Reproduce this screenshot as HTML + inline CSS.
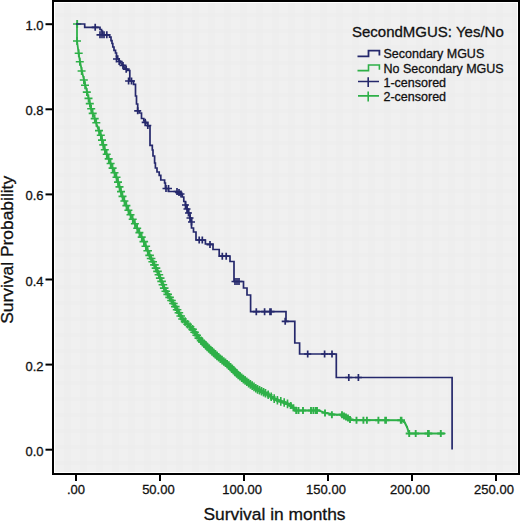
<!DOCTYPE html>
<html><head><meta charset="utf-8"><style>
html,body{margin:0;padding:0;background:#fff;}
svg{display:block;}
text{font-family:"Liberation Sans",sans-serif;fill:#111;stroke:#111;stroke-width:0.3px;}
</style></head><body>
<svg width="520" height="521" viewBox="0 0 520 521">
<defs>
<pattern id="chk" x="0" y="0" width="16" height="16" patternUnits="userSpaceOnUse">
<rect width="16" height="16" fill="#f0f0f0"/>
<rect x="0" y="0" width="7" height="16" fill="#e9e9e9" opacity="0.35"/>
<rect x="0" y="13" width="16" height="7" fill="#e9e9e9" opacity="0.35"/>
<rect x="0" y="-3" width="16" height="4" fill="#e9e9e9" opacity="0.35"/>
</pattern>
</defs>
<rect x="0" y="0" width="520" height="521" fill="#fff"/>
<rect x="55" y="3" width="462" height="469" fill="url(#chk)"/>
<rect x="53" y="1" width="466" height="473" fill="none" stroke="#000" stroke-width="2"/>
<g stroke="#000" stroke-width="2"><line x1="45.5" x2="53" y1="24.2" y2="24.2"/><line x1="45.5" x2="53" y1="109.3" y2="109.3"/><line x1="45.5" x2="53" y1="194.4" y2="194.4"/><line x1="45.5" x2="53" y1="279.5" y2="279.5"/><line x1="45.5" x2="53" y1="364.6" y2="364.6"/><line x1="45.5" x2="53" y1="449.7" y2="449.7"/><line x1="76.0" x2="76.0" y1="474" y2="481"/><line x1="160.0" x2="160.0" y1="474" y2="481"/><line x1="244.0" x2="244.0" y1="474" y2="481"/><line x1="328.0" x2="328.0" y1="474" y2="481"/><line x1="412.0" x2="412.0" y1="474" y2="481"/><line x1="496.0" x2="496.0" y1="474" y2="481"/></g>
<g font-size="13"><text x="43.5" y="30.2" text-anchor="end">1.0</text><text x="43.5" y="115.3" text-anchor="end">0.8</text><text x="43.5" y="200.4" text-anchor="end">0.6</text><text x="43.5" y="285.5" text-anchor="end">0.4</text><text x="43.5" y="370.6" text-anchor="end">0.2</text><text x="43.5" y="455.7" text-anchor="end">0.0</text><text x="76.0" y="494" text-anchor="middle">.00</text><text x="158.4" y="494" text-anchor="middle">50.00</text><text x="242.2" y="494" text-anchor="middle">100.00</text><text x="326.0" y="494" text-anchor="middle">150.00</text><text x="410.0" y="494" text-anchor="middle">200.00</text><text x="494.0" y="494" text-anchor="middle">250.00</text></g>
<text x="274.5" y="520.2" font-size="17.4" text-anchor="middle">Survival in months</text>
<text transform="translate(12.9,249.8) rotate(-90)" font-size="17.4" text-anchor="middle">Survival Probability</text>
<path d="M77,23.5 L77,40.8" stroke="#2eb048" stroke-width="1.80" stroke-linecap="round" fill="none"/><path d="M77,40.8 L78.8,54.6" stroke="#2eb048" stroke-width="1.80" stroke-linecap="round" fill="none"/><path d="M78.8,54.6 L80,61.5" stroke="#2eb048" stroke-width="1.80" stroke-linecap="round" fill="none"/><path d="M80,61.5 L82.3,73" stroke="#2eb048" stroke-width="1.80" stroke-linecap="round" fill="none"/><path d="M82.3,73 L84.6,82.3" stroke="#2eb048" stroke-width="1.80" stroke-linecap="round" fill="none"/><path d="M84.6,82.3 L87,91.5" stroke="#2eb048" stroke-width="1.80" stroke-linecap="round" fill="none"/><path d="M87,91.5 L89.2,100.8" stroke="#2eb048" stroke-width="1.80" stroke-linecap="round" fill="none"/><path d="M89.2,100.8 L91.5,110" stroke="#2eb048" stroke-width="1.80" stroke-linecap="round" fill="none"/><path d="M91.5,110 L95,119.3" stroke="#2eb048" stroke-width="1.80" stroke-linecap="round" fill="none"/><path d="M95,119.3 L97.3,126.2" stroke="#2eb048" stroke-width="1.80" stroke-linecap="round" fill="none"/><path d="M97.3,126.2 L100.8,135.4" stroke="#2eb048" stroke-width="2.20" stroke-linecap="round" fill="none"/><path d="M100.8,135.4 L104.2,148.4" stroke="#2eb048" stroke-width="2.20" stroke-linecap="round" fill="none"/><path d="M104.2,148.4 L111.1,164.6" stroke="#2eb048" stroke-width="2.20" stroke-linecap="round" fill="none"/><path d="M111.1,164.6 L116.9,178.4" stroke="#2eb048" stroke-width="2.20" stroke-linecap="round" fill="none"/><path d="M116.9,178.4 L122.6,196.8" stroke="#2eb048" stroke-width="2.20" stroke-linecap="round" fill="none"/><path d="M122.6,196.8 L129.6,213" stroke="#2eb048" stroke-width="2.20" stroke-linecap="round" fill="none"/><path d="M129.6,213 L136.5,226.8" stroke="#2eb048" stroke-width="2.20" stroke-linecap="round" fill="none"/><path d="M136.5,226.8 L143.4,240.6" stroke="#2eb048" stroke-width="2.26" stroke-linecap="round" fill="none"/><path d="M143.4,240.6 L149.6,255.4" stroke="#2eb048" stroke-width="2.47" stroke-linecap="round" fill="none"/><path d="M149.6,255.4 L157.3,270.8" stroke="#2eb048" stroke-width="2.70" stroke-linecap="round" fill="none"/><path d="M157.3,270.8 L165,290" stroke="#2eb048" stroke-width="2.96" stroke-linecap="round" fill="none"/><path d="M165,290 L174.6,305.4" stroke="#2eb048" stroke-width="3.22" stroke-linecap="round" fill="none"/><path d="M174.6,305.4 L182.3,318.8" stroke="#2eb048" stroke-width="3.43" stroke-linecap="round" fill="none"/><path d="M182.3,318.8 L192,328.6" stroke="#2eb048" stroke-width="3.61" stroke-linecap="round" fill="none"/><path d="M192,328.6 L199.6,339.2" stroke="#2eb048" stroke-width="3.76" stroke-linecap="round" fill="none"/><path d="M199.6,339.2 L209.2,348.8" stroke="#2eb048" stroke-width="3.70" stroke-linecap="round" fill="none"/><path d="M209.2,348.8 L218.8,357.5" stroke="#2eb048" stroke-width="3.70" stroke-linecap="round" fill="none"/><path d="M218.8,357.5 L228.5,365.2" stroke="#2eb048" stroke-width="3.70" stroke-linecap="round" fill="none"/><path d="M228.5,365.2 L238,374.8" stroke="#2eb048" stroke-width="3.70" stroke-linecap="round" fill="none"/><path d="M238,374.8 L247.7,382.5" stroke="#2eb048" stroke-width="3.70" stroke-linecap="round" fill="none"/><path d="M247.7,382.5 L257.3,389.2" stroke="#2eb048" stroke-width="3.70" stroke-linecap="round" fill="none"/><path d="M257.3,389.2 L267,394" stroke="#2eb048" stroke-width="3.00" stroke-linecap="round" fill="none"/><path d="M267,394 L276.5,400" stroke="#2eb048" stroke-width="3.00" stroke-linecap="round" fill="none"/><path d="M276.5,400 L285.8,403" stroke="#2eb048" stroke-width="3.00" stroke-linecap="round" fill="none"/><path d="M285.8,403 L290.4,405.4" stroke="#2eb048" stroke-width="3.00" stroke-linecap="round" fill="none"/><path d="M290.4,405.4 L292.7,406.5" stroke="#2eb048" stroke-width="3.00" stroke-linecap="round" fill="none"/><path d="M292.7,406.5 L295,410.5" stroke="#2eb048" stroke-width="2.00" stroke-linecap="round" fill="none"/><path d="M295,410.5 L319.2,410.6" stroke="#2eb048" stroke-width="2.00" stroke-linecap="round" fill="none"/><path d="M319.2,410.6 L325,412.9" stroke="#2eb048" stroke-width="2.00" stroke-linecap="round" fill="none"/><path d="M325,412.9 L336.9,414.8" stroke="#2eb048" stroke-width="2.00" stroke-linecap="round" fill="none"/><path d="M336.9,414.8 L341.5,414.5" stroke="#2eb048" stroke-width="2.00" stroke-linecap="round" fill="none"/><path d="M341.5,414.5 L351,420" stroke="#2eb048" stroke-width="2.00" stroke-linecap="round" fill="none"/><path d="M351,420 L401.5,420.2" stroke="#2eb048" stroke-width="2.00" stroke-linecap="round" fill="none"/><path d="M401.5,420.2 L404.6,422.3" stroke="#2eb048" stroke-width="2.00" stroke-linecap="round" fill="none"/><path d="M404.6,422.3 L407,427" stroke="#2eb048" stroke-width="2.00" stroke-linecap="round" fill="none"/><path d="M407,427 L408.5,431.5" stroke="#2eb048" stroke-width="2.00" stroke-linecap="round" fill="none"/><path d="M408.5,431.5 L409.2,433.5" stroke="#2eb048" stroke-width="2.00" stroke-linecap="round" fill="none"/><path d="M409.2,433.5 L444.6,433.5" stroke="#2eb048" stroke-width="2.00" stroke-linecap="round" fill="none"/>
<path d="M73.0,24.0h8.0M77.0,20.0v8.0M73.3,24.0h8.0M77.3,20.0v8.0M73.0,41.0h8.0M77.0,37.0v8.0M74.7,53.2h8.0M78.7,49.2v8.0M75.8,61.8h8.0M79.8,57.8v8.0M77.6,71.0h8.0M81.6,67.0v8.0M79.8,80.0h8.0M83.8,76.0v8.0M81.0,85.2h8.0M85.0,81.2v8.0M82.8,92.1h8.0M86.8,88.1v8.0M84.5,98.4h8.0M88.5,94.4v8.0M85.8,103.6h8.0M89.8,99.6v8.0M87.2,108.8h8.0M91.2,104.8v8.0M88.7,113.4h8.0M92.7,109.4v8.0M90.7,118.6h8.0M94.7,114.6v8.0M92.3,122.7h8.0M96.3,118.7v8.0M95.0,130.6h8.0M99.0,126.6v8.0M96.8,135.3h8.0M100.8,131.3v8.0M98.0,140.1h8.0M102.0,136.1v8.0M99.3,144.9h8.0M103.3,140.9v8.0M100.8,149.7h8.0M104.8,145.7v8.0M102.7,154.3h8.0M106.7,150.3v8.0M104.7,158.9h8.0M108.7,154.9v8.0M106.6,163.5h8.0M110.6,159.5v8.0M108.6,168.1h8.0M112.6,164.1v8.0M110.5,172.7h8.0M114.5,168.7v8.0M112.5,177.3h8.0M116.5,173.3v8.0M114.0,182.1h8.0M118.0,178.1v8.0M115.5,186.9h8.0M119.5,182.9v8.0M117.0,191.6h8.0M121.0,187.6v8.0M118.5,196.4h8.0M122.5,192.4v8.0M120.4,201.0h8.0M124.4,197.0v8.0M122.4,205.6h8.0M126.4,201.6v8.0M124.4,210.2h8.0M128.4,206.2v8.0M126.5,214.7h8.0M130.5,210.7v8.0M128.7,219.2h8.0M132.7,215.2v8.0M130.9,223.7h8.0M134.9,219.7v8.0M133.2,228.2h8.0M137.2,224.2v8.0M135.4,232.6h8.0M139.4,228.6v8.0M137.7,237.1h8.0M141.7,233.1v8.0M139.5,241.6h8.6M143.8,237.3v8.6M141.5,246.2h8.6M145.8,241.9v8.6M143.4,250.8h8.6M147.7,246.5v8.6M145.3,255.4h8.6M149.6,251.1v8.6M146.8,258.5h8.6M151.1,254.2v8.6M148.4,261.7h8.6M152.7,257.4v8.6M150.1,264.9h8.6M154.4,260.6v8.6M151.7,268.1h8.6M156.0,263.8v8.6M153.2,271.4h8.6M157.5,267.1v8.6M154.6,274.7h8.6M158.9,270.4v8.6M155.9,278.1h8.6M160.2,273.8v8.6M157.3,281.4h8.6M161.6,277.1v8.6M158.6,284.7h8.6M162.9,280.4v8.6M159.9,288.1h8.6M164.2,283.8v8.6M161.5,291.3h8.6M165.8,287.0v8.6M163.4,294.4h8.6M167.7,290.1v8.6M165.3,297.4h8.6M169.6,293.1v8.6M167.2,300.5h8.6M171.5,296.2v8.6M169.1,303.5h8.6M173.4,299.2v8.6M171.0,306.6h8.6M175.3,302.3v8.6M172.8,309.7h8.6M177.1,305.4v8.6M174.6,312.8h8.6M178.9,308.5v8.6M176.4,316.0h8.6M180.7,311.7v8.6M178.2,319.0h8.6M182.5,314.7v8.6M180.8,321.6h8.6M185.1,317.3v8.6M183.3,324.2h8.6M187.6,319.9v8.6M185.8,326.7h8.6M190.1,322.4v8.6M188.3,329.4h8.6M192.6,325.1v8.6M190.3,332.3h8.6M194.6,328.0v8.6M192.4,335.2h8.6M196.7,330.9v8.6M194.5,338.1h8.6M198.8,333.8v8.6M196.8,340.7h8.6M201.1,336.4v8.6M198.3,342.2h8.6M202.6,337.9v8.6M199.9,343.8h8.6M204.2,339.5v8.6M201.5,345.4h8.6M205.8,341.1v8.6M203.0,346.9h8.6M207.3,342.6v8.6M204.6,348.5h8.6M208.9,344.2v8.6M206.2,350.0h8.6M210.5,345.7v8.6M207.8,351.4h8.6M212.1,347.1v8.6M209.4,352.9h8.6M213.7,348.6v8.6M211.1,354.4h8.6M215.4,350.1v8.6M212.7,355.9h8.6M217.0,351.6v8.6M214.3,357.3h8.6M218.6,353.0v8.6M216.0,358.7h8.6M220.3,354.4v8.6M217.8,360.1h8.6M222.1,355.8v8.6M219.5,361.5h8.6M223.8,357.2v8.6M221.2,362.8h8.6M225.5,358.5v8.6M222.9,364.2h8.6M227.2,359.9v8.6M224.6,365.6h8.6M228.9,361.3v8.6M226.2,367.2h8.6M230.5,362.9v8.6M227.7,368.7h8.6M232.0,364.4v8.6M229.3,370.3h8.6M233.6,366.0v8.6M230.8,371.9h8.6M235.1,367.6v8.6M232.4,373.4h8.6M236.7,369.1v8.6M233.9,375.0h8.6M238.2,370.7v8.6M235.6,376.3h8.6M239.9,372.0v8.6M237.4,377.7h8.6M241.7,373.4v8.6M239.1,379.1h8.6M243.4,374.8v8.6M240.8,380.4h8.6M245.1,376.1v8.6M242.5,381.8h8.6M246.8,377.5v8.6M244.3,383.1h8.6M248.6,378.8v8.6M246.1,384.4h8.6M250.4,380.1v8.6M247.9,385.6h8.6M252.2,381.3v8.6M249.7,386.9h8.6M254.0,382.6v8.6M251.5,388.2h8.6M255.8,383.9v8.6M253.3,389.4h8.6M257.6,385.1v8.6M255.3,390.3h8.6M259.6,386.0v8.6M257.3,391.3h8.6M261.6,387.0v8.6M259.3,392.3h8.6M263.6,388.0v8.6M261.2,393.3h8.6M265.5,389.0v8.6M263.9,394.7h8.6M268.2,390.4v8.6M266.9,396.7h8.6M271.2,392.4v8.6M269.9,398.6h8.6M274.2,394.3v8.6M273.1,400.3h8.6M277.4,396.0v8.6M276.5,401.4h8.6M280.8,397.1v8.6M279.9,402.5h8.6M284.2,398.2v8.6M283.2,403.9h8.6M287.5,399.6v8.6" fill="none" stroke="#2eb048" stroke-width="1.6"/>
<path d="M287.2,405.6h7.0M290.7,402.1v7.0M289.9,407.7h7.0M293.4,404.2v7.0M292.7,410.5h7.0M296.2,407.0v7.0M295.0,410.5h7.0M298.5,407.0v7.0M299.5,410.5h7.0M303.0,407.0v7.0M307.5,410.5h7.0M311.0,407.0v7.0M309.9,410.5h7.0M313.4,407.0v7.0M312.3,410.5h7.0M315.8,407.0v7.0M313.5,410.5h7.0M317.0,407.0v7.0M321.5,412.9h7.0M325.0,409.4v7.0M328.4,414.8h7.0M331.9,411.3v7.0M338.5,414.8h7.0M342.0,411.3v7.0M340.5,416.0h7.0M344.0,412.5v7.0M342.5,417.0h7.0M346.0,413.5v7.0M344.5,418.0h7.0M348.0,414.5v7.0M346.5,419.5h7.0M350.0,416.0v7.0M353.0,420.2h7.0M356.5,416.7v7.0M359.9,420.2h7.0M363.4,416.7v7.0M363.4,420.2h7.0M366.9,416.7v7.0M374.9,420.2h7.0M378.4,416.7v7.0M382.5,420.2h7.0M386.0,416.7v7.0M381.7,420.2h7.0M385.2,416.7v7.0M398.0,420.2h7.0M401.5,416.7v7.0M397.3,420.2h7.0M400.8,416.7v7.0M405.7,433.5h7.0M409.2,430.0v7.0M412.2,433.5h7.0M415.7,430.0v7.0M424.5,433.5h7.0M428.0,430.0v7.0M425.3,433.5h7.0M428.8,430.0v7.0M437.3,433.5h7.0M440.8,430.0v7.0" fill="none" stroke="#2eb048" stroke-width="1.9"/>
<path d="M76,24 H84.7 V27.3 H100 V29.5 H101.5 V31 H102.5 V34.8 H109.6 V37.2 H111 V40.6 H112 V43.5 H112.8 V47 H114 V50.4 H115.5 V53 H116.5 V56 H117.7 V59 H119 V61 H120.5 V63 H122 V65 H123.5 V67 H125 V69 H126.9 V70.5 H129.8 V81 H133.5 V84.4 H135.5 V96 H136.5 V104 H137.7 V110.8 H139.2 V113 H141.5 V118.5 H143.8 V121 H145.5 V123 H147.5 V126 H150 V145.4 H152.3 V150 H153 V156 H154.6 V163 H155.4 V168 H157 V172 H159.2 V175.4 H160.8 V180 H164.6 V183 H165.4 V188.5 H168.5 V191.5 H176 V192.5 H180 V194.5 H182.3 V197 H183.8 V201.5 H185.5 V205 H187 V209 H188.5 V213 H190 V218 H191.5 V228 H193.5 V232 H196 V240 H205.4 V244 H213 V249.5 H219.2 V256.2 H230 V261.5 H234 V281.5 H243.5 V288 H247 V295 H250.6 V311.7 H286 V321.3 H294.8 V343 H299.6 V354 H336.3 V377.5 H452.1 V449.6" fill="none" stroke="#25286c" stroke-width="1.7"/>
<path d="M91.7,27.3h7.0M95.2,23.8v7.0M96.5,34.8h7.0M100.0,31.3v7.0M98.5,34.8h7.0M102.0,31.3v7.0M100.5,34.8h7.0M104.0,31.3v7.0M103.3,34.8h7.0M106.8,31.3v7.0M113.0,59.0h7.0M116.5,55.5v7.0M115.7,61.5h7.0M119.2,58.0v7.0M119.5,65.4h7.0M123.0,61.9v7.0M122.7,69.2h7.0M126.2,65.7v7.0M125.1,81.0h7.0M128.6,77.5v7.0M128.0,81.0h7.0M131.5,77.5v7.0M134.2,110.8h7.0M137.7,107.3v7.0M141.7,122.3h7.0M145.2,118.8v7.0M144.3,125.5h7.0M147.8,122.0v7.0M162.5,188.5h7.0M166.0,185.0v7.0M165.0,188.5h7.0M168.5,185.0v7.0M173.5,191.5h7.0M177.0,188.0v7.0M175.5,192.5h7.0M179.0,189.0v7.0M177.5,194.0h7.0M181.0,190.5v7.0M182.0,205.0h7.0M185.5,201.5v7.0M183.5,209.0h7.0M187.0,205.5v7.0M185.0,213.0h7.0M188.5,209.5v7.0M186.5,218.0h7.0M190.0,214.5v7.0M188.0,222.0h7.0M191.5,218.5v7.0M195.7,240.0h7.0M199.2,236.5v7.0M198.8,240.0h7.0M202.3,236.5v7.0M206.5,244.6h7.0M210.0,241.1v7.0M218.8,256.2h7.0M222.3,252.7v7.0M222.7,256.2h7.0M226.2,252.7v7.0M231.5,281.5h7.0M235.0,278.0v7.0M233.5,281.5h7.0M237.0,278.0v7.0M235.5,281.5h7.0M239.0,278.0v7.0M252.8,311.7h7.0M256.3,308.2v7.0M261.1,311.7h7.0M264.6,308.2v7.0M266.5,311.7h7.0M270.0,308.2v7.0M267.5,311.7h7.0M271.0,308.2v7.0M281.7,321.3h7.0M285.2,317.8v7.0M304.2,354.0h7.0M307.7,350.5v7.0M321.1,354.0h7.0M324.6,350.5v7.0M328.5,354.0h7.0M332.0,350.5v7.0M345.3,377.5h7.0M348.8,374.0v7.0M354.9,377.5h7.0M358.4,374.0v7.0" fill="none" stroke="#25286c" stroke-width="1.7"/>
<text x="352" y="36.5" font-size="15">SecondMGUS: Yes/No</text>
<g font-size="12.5">
<text x="383.5" y="57.8">Secondary MGUS</text>
<text x="383.5" y="72.5">No Secondary MGUS</text>
<text x="383.5" y="86.8">1-censored</text>
<text x="383.5" y="101.4">2-censored</text>
</g>
<path d="M357.5,56.4 H368.5 V50.6 H379.4 V55.6" fill="none" stroke="#25286c" stroke-width="1.8"/>
<path d="M357.5,70.6 H368.5 V65 H379.4 V69.8" fill="none" stroke="#2eb048" stroke-width="1.6"/>
<path d="M358,81.5 H379 M368.2,77.2 V87" fill="none" stroke="#25286c" stroke-width="1.6"/>
<path d="M358,95.9 H379 M368.2,91.6 V101.4" fill="none" stroke="#2eb048" stroke-width="1.6"/>
</svg>
</body></html>
